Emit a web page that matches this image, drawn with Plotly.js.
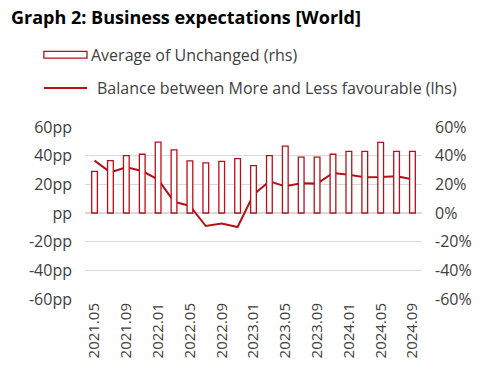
<!DOCTYPE html>
<html>
<head>
<meta charset="utf-8">
<script src="https://cdn.plot.ly/plotly-3.0.1.min.js"></script>
<style>html,body{margin:0;padding:0;background:#fff;}#chart{width:500px;height:380px;}</style>
</head>
<body>
<div id="chart"></div>
<script>
const months = ["2021.05","2021.07","2021.09","2021.11","2022.01","2022.03","2022.05","2022.07","2022.09","2022.11",
  "2023.01","2023.03","2023.05","2023.07","2023.09","2023.11","2024.01","2024.03","2024.05","2024.07","2024.09"];
const unchanged = [29, 36.5, 40, 41, 49.5, 44, 36.3, 35, 36, 38, 33, 40, 46.7, 39, 39, 41, 43, 43, 49.3, 43, 43];
const balance = [36.5, 28.4, 31.9, 29.3, 23.3, 7.9, 4.9, -9.1, -7.4, -9.8, 12.8, 22.1, 18.6, 20.7, 20.5, 27.9, 26.7, 24.9, 25.1, 25.6, 23.5];
const tickMonths = ["2021.05","2021.09","2022.01","2022.05","2022.09","2023.01","2023.05","2023.09","2024.01","2024.05","2024.09"];
const leftVals = [-60,-40,-20,0,20,40,60];
const leftText = ["-60pp","-40pp","-20pp","pp","20pp","40pp","60pp"];
const rightText = ["-60%","-40%","-20%","0%","20%","40%","60%"];
const seriesNames = ["Average of Unchanged (rhs)", "Balance between More and Less favourable (lhs)"];

const red = "#b3121a";
const font = "Open Sans, Noto Sans, sans-serif";

const traces = [
  {type:"bar", x:months, y:unchanged, yaxis:"y2", name:seriesNames[0],
   marker:{color:"#ffffff", line:{color:red, width:1.3}}, showlegend:false},
  {type:"scatter", mode:"lines", x:months, y:balance, yaxis:"y", name:seriesNames[1],
   line:{color:red, width:2}, showlegend:false}
];

const layout = {
  width:500, height:380,
  margin:{l:85, r:78, t:127, b:81},
  paper_bgcolor:"#fff", plot_bgcolor:"#fff",
  font:{family:font, color:"#404040", size:14},
  bargap:0.64,
  showlegend:false,
  xaxis:{type:"category", tickvals:tickMonths, ticktext:tickMonths, tickangle:-90,
    showgrid:false, zeroline:false, showline:false, ticks:"",
    tickfont:{size:15, color:"#404040"}, range:[-0.6, 20.6]},
  yaxis:{range:[-60,60], tickvals:leftVals, ticktext:leftText, showgrid:true,
    gridcolor:"#d9d9d9", gridwidth:1.3, zeroline:false, showline:false, ticks:"",
    ticklabelstandoff:12,
    tickfont:{size:16, color:"#404040"}},
  yaxis2:{range:[-60,60], tickvals:leftVals, ticktext:rightText, overlaying:"y", side:"right",
    showgrid:false, zeroline:false, showline:false, ticks:"",
    ticklabelstandoff:12,
    tickfont:{size:16, color:"#404040"}},
  shapes:[
    {type:"rect", xref:"paper", yref:"paper", x0:-0.122, x1:0.006, y0:1.44, y1:1.40,
     line:{color:red, width:1.3}, fillcolor:"#fff"},
    {type:"line", xref:"paper", yref:"paper", x0:-0.122, x1:0.006, y0:1.227, y1:1.227,
     line:{color:red, width:2}}
  ],
  annotations:[
    {text:"<b>Graph 2: Business expectations [World]</b>", xref:"paper", yref:"paper",
     x:-0.225, y:1.64, xanchor:"left", yanchor:"middle", showarrow:false,
     font:{size:18, color:"#000", family:font}},
    {text:seriesNames[0], xref:"paper", yref:"paper", x:0.012, y:1.42, xanchor:"left", yanchor:"middle",
     showarrow:false, font:{size:16, color:"#404040", family:font}},
    {text:seriesNames[1], xref:"paper", yref:"paper", x:0.03, y:1.227, xanchor:"left", yanchor:"middle",
     showarrow:false, font:{size:16, color:"#404040", family:font}}
  ]
};

Plotly.newPlot("chart", traces, layout, {displayModeBar:false, staticPlot:true});
</script>
</body>
</html>
